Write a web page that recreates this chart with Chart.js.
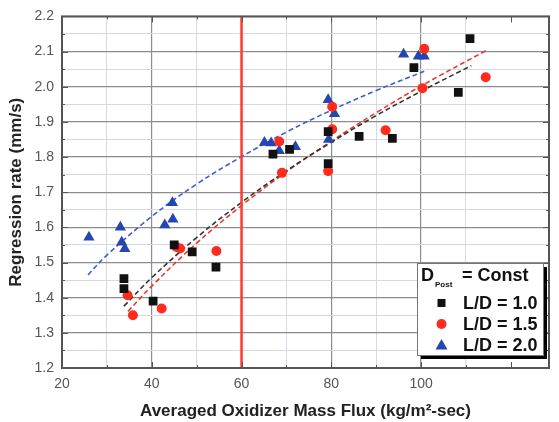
<!DOCTYPE html>
<html>
<head>
<meta charset="utf-8">
<script src="https://cdn.jsdelivr.net/npm/chart.js@4.4.1/dist/chart.umd.min.js"></script>
<style>
  html, body { margin: 0; padding: 0; background: #fff; }
  #wrap { width: 559px; height: 422px; }
</style>
</head>
<body>
<div id="wrap"><canvas id="rateChart" width="559" height="422"></canvas></div>
<script>
const ld10X = [33.8, 33.8, 40.3, 45.0, 49.0, 54.3, 67.0, 70.7, 79.3, 79.3, 86.2, 93.6, 98.4, 108.3, 110.9];
const ld10Y = [1.454, 1.426, 1.39, 1.55, 1.53, 1.487, 1.808, 1.822, 1.872, 1.781, 1.859, 1.853, 2.054, 1.984, 2.137];

const ld15X = [34.6, 35.8, 42.2, 45.5, 46.3, 54.4, 68.4, 69.0, 80.2, 80.2, 79.3, 92.1, 100.3, 100.7, 114.4];
const ld15Y = [1.407, 1.35, 1.369, 1.544, 1.54, 1.533, 1.844, 1.755, 1.943, 1.879, 1.76, 1.876, 1.996, 2.108, 2.027];

const ld20X = [26.0, 33.0, 33.3, 34.0, 42.9, 44.7, 44.6, 65.1, 66.6, 68.4, 72.0, 79.3, 80.7, 79.4, 96.1, 99.4, 100.7];
const ld20Y = [1.572, 1.60, 1.558, 1.539, 1.607, 1.623, 1.67, 1.841, 1.84, 1.818, 1.829, 1.963, 1.923, 1.85, 2.092, 2.087, 2.087];

// dashed fit curves, sampled off the figure
const fit10X = [33.8, 40, 50, 60, 70, 80, 90, 100, 111.2];
const fit10Y = [1.376, 1.457, 1.571, 1.671, 1.761, 1.842, 1.918, 1.987, 2.06];
const fit15X = [34.7, 40, 50, 60, 70, 80, 90, 100, 114.5];
const fit15Y = [1.361, 1.433, 1.555, 1.662, 1.758, 1.845, 1.926, 2.002, 2.103];
const fit20X = [25.8, 30, 40, 50, 60, 70, 80, 90, 100.7];
const fit20Y = [1.465, 1.521, 1.631, 1.723, 1.801, 1.871, 1.933, 1.989, 2.044];

const limitX = [60, 60];
const limitY = [1.2, 2.2];

const seriesLabels = ['L/D = 1.0', 'L/D = 1.5', 'L/D = 2.0'];
const seriesColors = ['#111111', '#ff2b1c', '#2546b0'];
const fitColors = ['#333333', '#ea3a2c', '#3b5fcf'];
const markerShapes = ['rect', 'circle', 'triangle'];
const markerSizes = [6.2, 5, 6.5];

const FONT = '"Liberation Sans", Arial, sans-serif';

function pts(xs, ys) { return xs.map((x, i) => ({ x: x, y: ys[i] })); }

function fitSet(xs, ys, color) {
  return {
    type: 'line', data: pts(xs, ys), borderColor: color, borderWidth: 1.6,
    borderDash: [5, 3], pointRadius: 0, tension: 0.4, fill: false, order: 3
  };
}

function dotSet(i, xs, ys) {
  return {
    type: 'scatter', label: seriesLabels[i], data: pts(xs, ys),
    pointStyle: markerShapes[i], pointRadius: markerSizes[i],
    backgroundColor: seriesColors[i], borderColor: seriesColors[i], borderWidth: 0, order: 1
  };
}

const frameBits = {
  id: 'frameBits',
  afterDatasetsDraw(chart) {
    const c = chart.ctx, a = chart.chartArea;
    const xs = chart.scales.x, ys = chart.scales.y;
    c.save();
    // inner tick marks
    c.strokeStyle = '#555';
    c.lineWidth = 1;
    for (let v = 30; v < 128; v += 10) {
      const px = Math.round(xs.getPixelForValue(v)) + 0.5;
      const len = v % 20 === 0 ? 6 : 3;
      c.beginPath();
      c.moveTo(px, a.top); c.lineTo(px, a.top + len);
      c.moveTo(px, a.bottom); c.lineTo(px, a.bottom - len);
      c.stroke();
    }
    for (let k = 1; k < 20; k++) {
      const v = 1.2 + k * 0.05;
      const py = Math.round(ys.getPixelForValue(v)) + 0.5;
      const len = k % 2 === 0 ? 6 : 3;
      c.beginPath();
      c.moveTo(a.left, py); c.lineTo(a.left + len, py);
      c.moveTo(a.right, py); c.lineTo(a.right - len, py);
      c.stroke();
    }
    // frame
    c.strokeStyle = '#555';
    c.lineWidth = 2;
    c.strokeRect(a.left, a.top, a.right - a.left, a.bottom - a.top);

    // legend box with drop shadow
    const bx = 417, by = 263, bw = 126, bh = 92;
    c.fillStyle = '#000';
    c.fillRect(bx + 4, by + 4, bw, bh);
    c.fillStyle = '#fff';
    c.fillRect(bx, by, bw, bh);
    c.strokeStyle = '#777';
    c.lineWidth = 1;
    c.strokeRect(bx + 0.5, by + 0.5, bw, bh);

    c.fillStyle = '#111';
    c.textBaseline = 'middle';
    c.textAlign = 'left';
    c.font = 'bold 18px ' + FONT;
    c.fillText('D', 421, 276);
    c.font = 'bold 8px ' + FONT;
    c.fillText('Post', 435, 285);
    c.font = 'bold 18px ' + FONT;
    c.fillText('= Const', 462, 276);

    const rowY = [303, 324, 345];
    for (let i = 0; i < 3; i++) {
      const mx = 441.5, my = rowY[i];
      c.fillStyle = seriesColors[i];
      c.beginPath();
      if (i === 0) {
        c.rect(mx - 4, my - 4, 8, 8);
      } else if (i === 1) {
        c.arc(mx, my, 5, 0, Math.PI * 2);
      } else {
        c.moveTo(mx, my - 6); c.lineTo(mx + 6, my + 4.5); c.lineTo(mx - 6, my + 4.5); c.closePath();
      }
      c.fill();
      c.fillStyle = '#111';
      c.font = 'bold 18px ' + FONT;
      c.fillText(seriesLabels[i], 463, my + 1);
    }
    c.restore();
  }
};

const isMajorY = v => Math.abs(v * 10 - Math.round(v * 10)) < 1e-6;

const ctx = document.getElementById('rateChart').getContext('2d');
const rateChart = new Chart(ctx, {
  data: {
    datasets: [
      fitSet(fit10X, fit10Y, fitColors[0]),
      fitSet(fit15X, fit15Y, fitColors[1]),
      fitSet(fit20X, fit20Y, fitColors[2]),
      {
        type: 'line', data: pts(limitX, limitY), borderColor: '#ff3b30', borderWidth: 2.5,
        pointRadius: 0, fill: false, order: 2
      },
      dotSet(0, ld10X, ld10Y),
      dotSet(1, ld15X, ld15Y),
      dotSet(2, ld20X, ld20Y)
    ]
  },
  options: {
    responsive: false,
    animation: false,
    layout: { padding: { top: 12, right: 10, left: 0, bottom: 0 } },
    plugins: { legend: { display: false }, tooltip: { enabled: false } },
    scales: {
      x: {
        type: 'linear', min: 20, max: 128.5,
        afterFit: s => { s.height = 54; },
        ticks: {
          stepSize: 10, autoSkip: false, maxRotation: 0, padding: 8,
          color: '#555', font: { size: 14, family: FONT },
          callback: v => (v % 20 === 0 ? String(v) : '')
        },
        grid: {
          drawTicks: false,
          color: c => (c.tick && c.tick.value % 20 === 0 ? '#8c8c8c' : '#d6d9e4'),
          lineWidth: c => (c.tick && c.tick.value % 20 === 0 ? 1.2 : 1)
        },
        border: { display: false },
        title: {
          display: true, text: 'Averaged Oxidizer Mass Flux (kg/m\u00b2-sec)', color: '#222',
          font: { size: 17, weight: 'bold', family: FONT },
          padding: { top: 8, bottom: 0 }
        }
      },
      y: {
        type: 'linear', min: 1.2, max: 2.2,
        afterFit: s => { s.width = 62; },
        ticks: {
          stepSize: 0.05, autoSkip: false, padding: 8,
          color: '#555', font: { size: 14, family: FONT },
          callback: v => (isMajorY(v) ? v.toFixed(1) : '')
        },
        grid: {
          drawTicks: false,
          color: c => (c.tick && isMajorY(c.tick.value) ? '#8c8c8c' : '#d6d9e4'),
          lineWidth: c => (c.tick && isMajorY(c.tick.value) ? 1.2 : 1)
        },
        border: { display: false },
        title: {
          display: true, text: 'Regression rate (mm/s)', color: '#222',
          font: { size: 17, weight: 'bold', family: FONT },
          padding: { top: 6, bottom: 4 }
        }
      }
    }
  },
  plugins: [frameBits]
});
</script>
</body>
</html>
